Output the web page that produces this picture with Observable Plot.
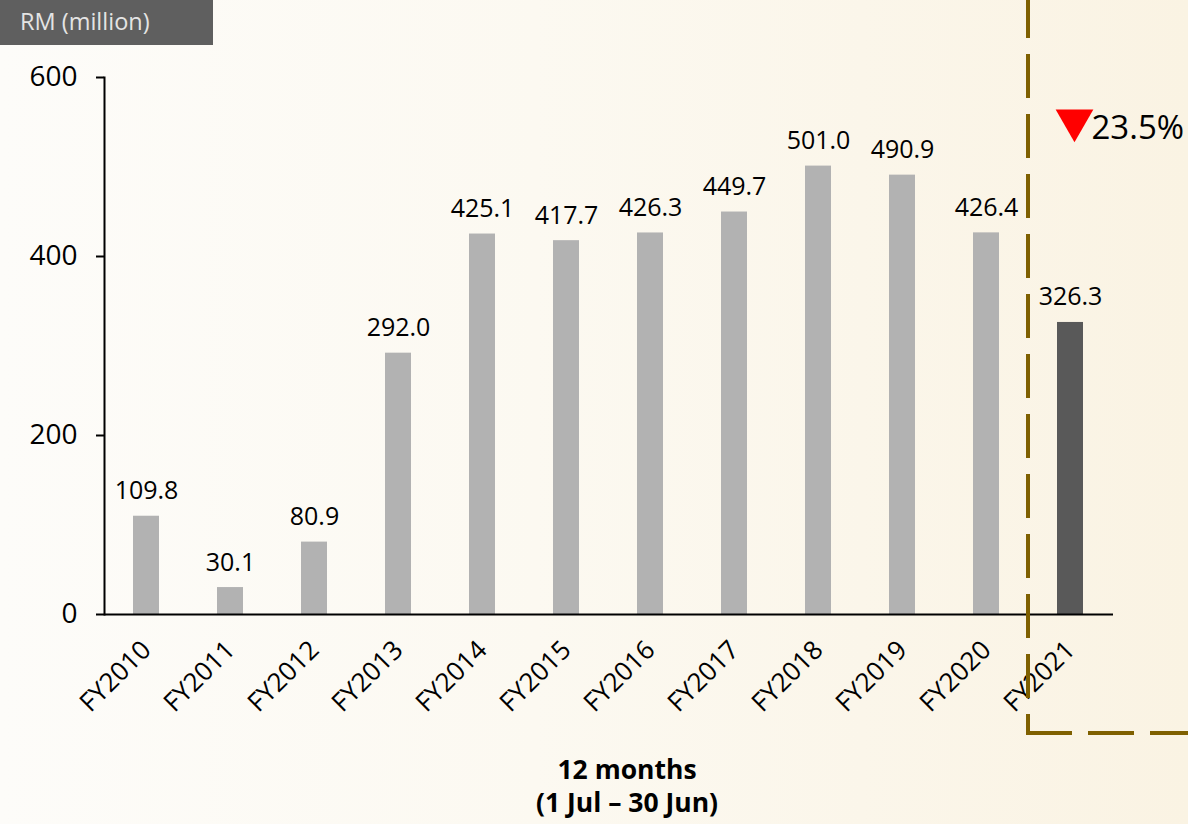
<!DOCTYPE html>
<html>
<head>
<meta charset="utf-8">
<script src="https://cdn.jsdelivr.net/npm/d3@7"></script>
<script src="https://cdn.jsdelivr.net/npm/@observablehq/plot@0.6"></script>
<style>
html, body { margin: 0; padding: 0; }
body {
  width: 1188px; height: 824px; overflow: hidden; position: relative;
  background: linear-gradient(90deg, #fdfcf9 0%, #fcf9f1 45%, #faf3e3 100%);
  font-family: "Open Sans", sans-serif;
}
#chart { position: absolute; left: 0; top: 0; }
#unit {
  position: absolute; left: 0; top: 0; width: 213px; height: 45px;
  background: #5f5f5f; color: #e4e4e4; box-sizing: border-box;
  padding-left: 20px; line-height: 42px; font-size: 23.5px;
  font-family: "Open Sans", sans-serif;
}
#caption {
  position: absolute; left: 627px; top: 753px; transform: translateX(-50%);
  text-align: center; white-space: nowrap; font-weight: bold;
  font-size: 26.5px; line-height: 33px; font-family: "Open Sans", sans-serif; color: #000;
}
</style>
</head>
<body>
<div id="chart"></div>
<div id="unit">RM (million)</div>
<div id="caption">12 months<br>(1 Jul – 30 Jun)</div>
<script>
const years = ["FY2010","FY2011","FY2012","FY2013","FY2014","FY2015","FY2016","FY2017","FY2018","FY2019","FY2020","FY2021"];
const values = [109.8, 30.1, 80.9, 292.0, 425.1, 417.7, 426.3, 449.7, 501.0, 490.9, 426.4, 326.3];
const yTicks = [0, 200, 400, 600];
const highlightYear = "FY2021";
const previousYear = "FY2020";
const annotationY = [552, 543]; // triangle, percentage label (data units)

const data = years.map((year, i) => ({ year, value: values[i] }));
const prev = values[years.indexOf(previousYear)];
const curr = values[years.indexOf(highlightYear)];
const changePct = ((prev - curr) / prev * 100).toFixed(1) + "%";

const plot = Plot.plot({
  width: 1188,
  height: 740,
  marginLeft: 104,
  marginRight: 75,
  marginTop: 77,
  marginBottom: 126,
  style: { background: "transparent", fontFamily: "'Open Sans', sans-serif", overflow: "visible", color: "#000" },
  x: { domain: years, paddingInner: 0.69, paddingOuter: 0.345, label: null },
  y: { domain: [0, 600], label: null },
  marks: [
    Plot.barY(data, { x: "year", y: "value", fill: d => d.year === highlightYear ? "#595959" : "#b2b2b2" }),
    Plot.text(data, { x: "year", y: "value", text: d => d.value.toFixed(1), lineAnchor: "bottom", dy: -17, fontSize: 25, fill: "#000" }),
    Plot.frame({ anchor: "left", stroke: "#000", strokeWidth: 2 }),
    Plot.ruleY([0], { stroke: "#000", strokeWidth: 2 }),
    Plot.axisY({ ticks: yTicks, tickSize: 8, tickPadding: 19, fontSize: 28, stroke: "#000", strokeWidth: 2, fill: "#000", tickFormat: d => String(d), label: null }),
    Plot.axisX({ tickSize: 0, tickPadding: 31, tickRotate: -45, fontSize: 26, fill: "#000", label: null }),
    Plot.dot([{ year: highlightYear, y: annotationY[0] }], { x: "year", y: "y", symbol: "triangle", rotate: 180, r: 14, fill: "#ff0000", stroke: null, dx: 4 }),
    Plot.text([{ year: highlightYear, y: annotationY[1], t: changePct }], { x: "year", y: "y", text: "t", textAnchor: "start", dx: 21, fontSize: 33, fill: "#000" })
  ]
});

document.getElementById("chart").appendChild(plot);

// dashed boundary box around the latest year
const xs = plot.scale("x");
const bx = (xs.apply(previousYear) + xs.bandwidth + xs.apply(highlightYear)) / 2;
const svg = d3.select(plot);
const bottomY = 733;
svg.append("line")
  .attr("x1", bx).attr("x2", bx).attr("y1", 0).attr("y2", bottomY)
  .attr("stroke", "#7f6000").attr("stroke-width", 4)
  .attr("stroke-dasharray", "44 16").attr("stroke-dashoffset", 6);
svg.append("line")
  .attr("x1", bx - 2).attr("x2", 1188).attr("y1", bottomY).attr("y2", bottomY)
  .attr("stroke", "#7f6000").attr("stroke-width", 4)
  .attr("stroke-dasharray", "46 16");
</script>
</body>
</html>
